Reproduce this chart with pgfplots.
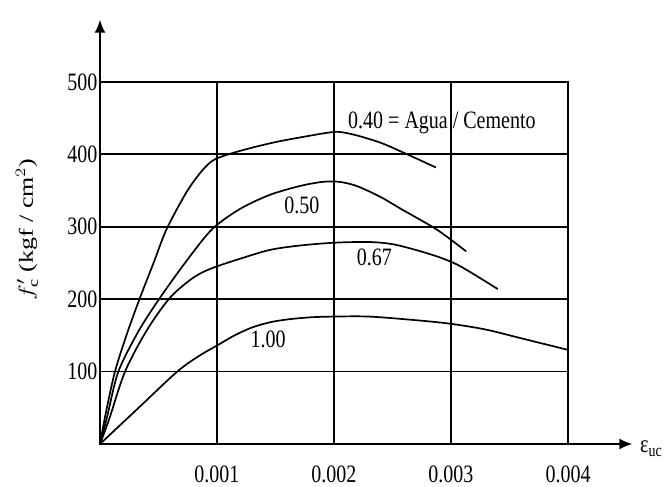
\documentclass[border=0pt]{standalone}
\usepackage{fontspec}
\setmainfont{Liberation Serif}
\usepackage{pgfplots}
\pgfplotsset{compat=1.18}
\usetikzlibrary{arrows.meta}
\newcommand{\T}[1]{\scalebox{1}[1.25]{#1}}
\begin{document}
\begin{tikzpicture}
\begin{axis}[
  name=ax,
  scale only axis,
  width=468pt, height=362pt,
  xmin=0, xmax=0.004, ymin=0, ymax=500,
  clip=false,
  font=\fontsize{20}{24}\selectfont,
  axis line style={line width=1.8pt},
  grid=major,
  grid style={black, line width=1.8pt},
  major tick length=0pt,
  xtick={0.001,0.002,0.003,0.004},
  xticklabels={\T{0.001},\T{0.002},\T{0.003},\T{0.004}},
  ytick={100,200,300,400,500},
  yticklabels={\T{100},\T{200},\T{300},\T{400},\T{500}},
  xticklabel style={yshift=-18pt},
  yticklabel style={xshift=1pt},
]
\addplot[black, line width=1.7pt, smooth, tension=0.5] coordinates {
 (0,0) (0.00005,43) (0.000128,100) (0.00023,152) (0.000342,202) (0.00046,251)
 (0.00057,297) (0.00074,348) (0.00087,377) (0.00098,393) (0.0012,405) (0.0015,417)
 (0.0018,426) (0.00195,430) (0.00205,431) (0.0022,426) (0.0024,416) (0.0026,402)
 (0.00287,382)};
\addplot[black, line width=1.7pt, smooth, tension=0.5] coordinates {
 (0,0) (0.00006,37) (0.000157,100) (0.00033,156) (0.000513,202) (0.00074,253)
 (0.00096,297) (0.0012,325) (0.00145,344) (0.0017,356) (0.0019,362) (0.00205,362)
 (0.0022,356) (0.0024,341) (0.00258,324) (0.00288,296) (0.00313,266)};
\addplot[black, line width=1.7pt, smooth, tension=0.5] coordinates {
 (0,0) (0.00008,35) (0.000214,100) (0.0004,157) (0.000598,202) (0.0008,230)
 (0.00096,243) (0.0012,256) (0.00145,268) (0.0017,274) (0.002,278) (0.0023,279)
 (0.0025,276) (0.0027,268) (0.0029,258) (0.00305,248) (0.0032,234) (0.0034,214)};
\addplot[black, line width=1.7pt, smooth, tension=0.5] coordinates {
 (0,0) (0.00033,50) (0.00066,100) (0.00085,122) (0.001,136) (0.00115,150)
 (0.0013,161) (0.00145,168) (0.0016,172) (0.0018,175) (0.002,176) (0.0023,176)
 (0.0027,171) (0.003,166) (0.0033,158) (0.0036,146) (0.00385,136) (0.004,130)};
\draw[line width=1.8pt, -{Latex[length=13pt,width=11pt]}] (axis cs:0,500) -- (axis cs:0,586);
\draw[line width=1.8pt, -{Latex[length=13pt,width=11pt]}] (axis cs:0.004,0) -- (axis cs:0.00455,0);
\node[anchor=west, inner sep=0pt] at (axis cs:0.00212,443) {\T{0.40 = Agua / Cemento}};
\node[inner sep=0pt] at (axis cs:0.001726,330) {\T{0.50}};
\node[inner sep=0pt] at (axis cs:0.002346,258) {\T{0.67}};
\node[inner sep=0pt] at (axis cs:0.001436,144) {\T{1.00}};
\node[anchor=west, inner sep=0pt] at (axis cs:0.004615,-6) {\T{ε\textsubscript{uc}}};
\node[rotate=90, inner sep=0pt] at (axis cs:-0.000624,296) {\scalebox{1.3}[1]{$f'_{\mathrm{c}}$ (kgf / cm$^2$)}};
\end{axis}
\pgfresetboundingbox
\path[use as bounding box] (ax.south west) ++(-100pt,-43pt) rectangle ++(670pt,487pt);
\end{tikzpicture}
\end{document}
